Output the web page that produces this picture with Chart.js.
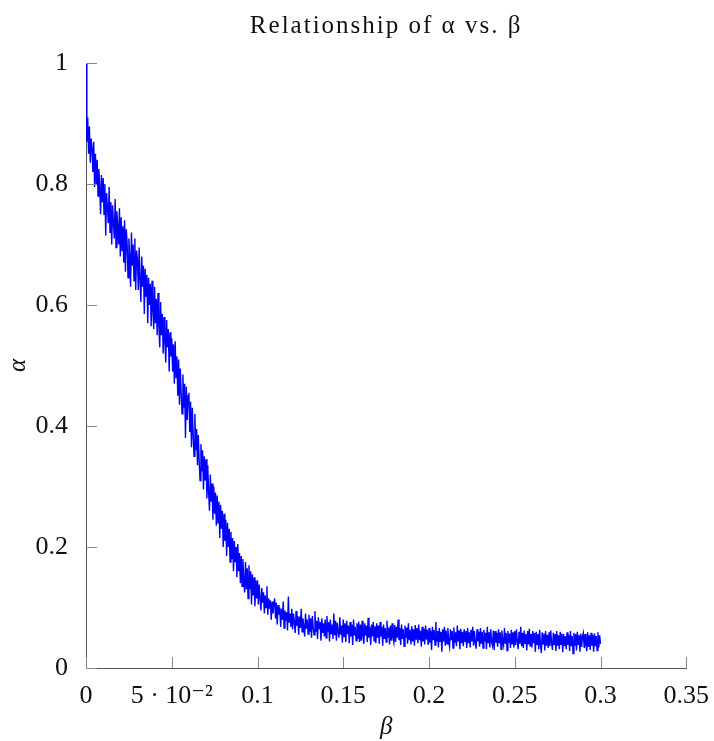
<!DOCTYPE html>
<html>
<head>
<meta charset="utf-8">
<script src="https://cdn.jsdelivr.net/npm/chart.js@4.4.0/dist/chart.umd.min.js"></script>
<style>
  html, body { margin: 0; padding: 0; background: #fff; }
</style>
</head>
<body>
<canvas id="chart" width="714" height="741"></canvas>
<script>
const BETA_STEP = 0.0005;
const alphaValues = [
  1.0, 0.87, 0.91, 0.85, 0.895, 0.835, 0.875, 0.86, 0.82, 0.87, 0.795, 0.85, 0.80, 0.84, 0.78, 0.825, 0.795, 0.75, 0.815, 0.77,
  0.81, 0.75, 0.80, 0.715, 0.785, 0.76, 0.735, 0.795, 0.72, 0.77, 0.70, 0.765, 0.735, 0.71, 0.775, 0.695, 0.755, 0.73, 0.70, 0.76,
  0.68, 0.745, 0.69, 0.73, 0.67, 0.74, 0.655, 0.725, 0.70, 0.645, 0.71, 0.68, 0.63, 0.72, 0.665, 0.70, 0.64, 0.71, 0.625, 0.69,
  0.675, 0.625, 0.695, 0.64, 0.605, 0.68, 0.63, 0.665, 0.585, 0.66, 0.615, 0.65, 0.57, 0.645, 0.60, 0.635, 0.565, 0.64, 0.59, 0.56,
  0.63, 0.57, 0.61, 0.55, 0.62, 0.565, 0.53, 0.605, 0.55, 0.585, 0.52, 0.58, 0.54, 0.505, 0.575, 0.53, 0.56, 0.49, 0.555, 0.515,
  0.545, 0.49, 0.535, 0.47, 0.54, 0.48, 0.515, 0.45, 0.51, 0.435, 0.495, 0.455, 0.42, 0.485, 0.43, 0.47, 0.38, 0.465, 0.41, 0.45,
  0.455, 0.39, 0.44, 0.365, 0.43, 0.385, 0.35, 0.42, 0.36, 0.395, 0.335, 0.385, 0.34, 0.31, 0.37, 0.325, 0.36, 0.295, 0.35, 0.31,
  0.345, 0.28, 0.335, 0.29, 0.26, 0.32, 0.275, 0.305, 0.245, 0.30, 0.255, 0.29, 0.235, 0.285, 0.24, 0.275, 0.215, 0.27, 0.23, 0.26,
  0.2, 0.255, 0.21, 0.245, 0.185, 0.24, 0.2, 0.23, 0.175, 0.225, 0.18, 0.215, 0.16, 0.21, 0.175, 0.2, 0.15, 0.205, 0.16, 0.19,
  0.14, 0.185, 0.135, 0.18, 0.145, 0.125, 0.175, 0.13, 0.165, 0.115, 0.17, 0.13, 0.16, 0.105, 0.155, 0.12, 0.15, 0.102, 0.145, 0.115,
  0.145, 0.105, 0.138, 0.115, 0.095, 0.132, 0.108, 0.125, 0.09, 0.12, 0.1, 0.135, 0.088, 0.115, 0.098, 0.112, 0.08, 0.11, 0.09, 0.104,
  0.115, 0.082, 0.108, 0.072, 0.104, 0.088, 0.1, 0.068, 0.098, 0.08, 0.11, 0.066, 0.095, 0.078, 0.092, 0.062, 0.118, 0.075, 0.09, 0.068,
  0.098, 0.064, 0.09, 0.075, 0.058, 0.094, 0.07, 0.086, 0.055, 0.085, 0.066, 0.098, 0.06, 0.082, 0.068, 0.052, 0.09, 0.065, 0.08, 0.056,
  0.088, 0.06, 0.082, 0.05, 0.086, 0.066, 0.055, 0.094, 0.06, 0.078, 0.048, 0.084, 0.064, 0.076, 0.045, 0.082, 0.058, 0.074, 0.052, 0.08,
  0.05, 0.086, 0.06, 0.076, 0.044, 0.08, 0.056, 0.072, 0.048, 0.09, 0.054, 0.078, 0.045, 0.075, 0.06, 0.05, 0.084, 0.055, 0.07, 0.042,
  0.08, 0.052, 0.074, 0.043, 0.078, 0.056, 0.07, 0.041, 0.076, 0.052, 0.072, 0.038, 0.08, 0.054, 0.068, 0.045, 0.074, 0.048, 0.077, 0.043,
  0.072, 0.045, 0.078, 0.052, 0.04, 0.074, 0.054, 0.07, 0.043, 0.083, 0.05, 0.068, 0.038, 0.072, 0.052, 0.076, 0.045, 0.069, 0.041, 0.074,
  0.05, 0.07, 0.04, 0.076, 0.052, 0.068, 0.037, 0.072, 0.048, 0.066, 0.043, 0.078, 0.05, 0.067, 0.039, 0.07, 0.045, 0.074, 0.049, 0.042,
  0.071, 0.043, 0.068, 0.05, 0.08, 0.046, 0.066, 0.038, 0.072, 0.048, 0.064, 0.036, 0.07, 0.05, 0.067, 0.04, 0.074, 0.046, 0.063, 0.039,
  0.069, 0.044, 0.064, 0.037, 0.071, 0.048, 0.066, 0.041, 0.072, 0.046, 0.062, 0.035, 0.068, 0.044, 0.065, 0.039, 0.07, 0.047, 0.063, 0.038,
  0.066, 0.042, 0.062, 0.03, 0.068, 0.046, 0.063, 0.038, 0.076, 0.044, 0.061, 0.034, 0.066, 0.043, 0.06, 0.027, 0.064, 0.044, 0.068, 0.037,
  0.062, 0.04, 0.066, 0.044, 0.035, 0.064, 0.046, 0.061, 0.033, 0.067, 0.042, 0.059, 0.036, 0.07, 0.044, 0.062, 0.031, 0.065, 0.041, 0.06,
  0.036, 0.064, 0.044, 0.061, 0.033, 0.066, 0.041, 0.059, 0.034, 0.063, 0.044, 0.068, 0.037, 0.061, 0.042, 0.032, 0.064, 0.044, 0.06, 0.035,
  0.066, 0.04, 0.06, 0.033, 0.063, 0.044, 0.058, 0.031, 0.068, 0.041, 0.059, 0.034, 0.064, 0.043, 0.037, 0.062, 0.03, 0.061, 0.042, 0.058,
  0.035, 0.064, 0.041, 0.059, 0.031, 0.062, 0.044, 0.037, 0.066, 0.04, 0.058, 0.029, 0.061, 0.042, 0.057, 0.033, 0.063, 0.039, 0.059, 0.034,
  0.061, 0.038, 0.064, 0.043, 0.031, 0.06, 0.04, 0.068, 0.036, 0.058, 0.033, 0.062, 0.041, 0.056, 0.029, 0.061, 0.039, 0.065, 0.035, 0.056,
  0.034, 0.061, 0.041, 0.058, 0.027, 0.06, 0.039, 0.056, 0.031, 0.063, 0.038, 0.025, 0.059, 0.04, 0.057, 0.029, 0.061, 0.037, 0.055, 0.033,
  0.059, 0.036, 0.062, 0.04, 0.03, 0.058, 0.038, 0.056, 0.028, 0.061, 0.037, 0.054, 0.031, 0.06, 0.039, 0.057, 0.026, 0.056, 0.036, 0.053,
  0.031, 0.059, 0.038, 0.055, 0.028, 0.061, 0.036, 0.053, 0.024, 0.058, 0.037, 0.056, 0.029, 0.06, 0.038, 0.054, 0.027, 0.057, 0.035, 0.052,
  0.058, 0.033, 0.056, 0.038, 0.028, 0.059, 0.035, 0.054, 0.03, 0.058, 0.037, 0.055, 0.027, 0.057, 0.036, 0.053, 0.029, 0.059, 0.034, 0.054,
  0.04
];

const xTickLabels = ["0", "5 \u00b7 10\u207b\u00b2", "0.1", "0.15", "0.2", "0.25", "0.3", "0.35"];
const yTickLabels = ["0", "0.2", "0.4", "0.6", "0.8", "1"];
const chartTitle = "Relationship of \u03b1 vs. \u03b2";
const xTitle = "\u03b2";
const yTitle = "\u03b1";

const points = alphaValues.map((a, i) => ({ x: +(i * BETA_STEP).toFixed(4), y: a }));

const FONT = "'Liberation Serif', 'DejaVu Serif', serif";

// pgfplots-style ticks pointing into the plot
const innerTicks = {
  id: "innerTicks",
  afterDraw(chart) {
    const { ctx, chartArea, scales } = chart;
    ctx.save();
    ctx.strokeStyle = "#8a8a8a";
    ctx.lineWidth = 1;
    scales.x.ticks.forEach(t => {
      const px = Math.round(scales.x.getPixelForValue(t.value)) + 0.5;
      ctx.beginPath();
      ctx.moveTo(px, chartArea.bottom);
      ctx.lineTo(px, chartArea.bottom - 11);
      ctx.stroke();
    });
    scales.y.ticks.forEach(t => {
      const py = Math.round(scales.y.getPixelForValue(t.value)) + 0.5;
      ctx.beginPath();
      ctx.moveTo(chartArea.left, py);
      ctx.lineTo(chartArea.left + 11, py);
      ctx.stroke();
    });
    ctx.restore();
  }
};

// the TeX title is set wider than Liberation Serif, so space the title letters a bit
const spacedTitle = {
  id: "spacedTitle",
  afterInit(chart) {
    const tb = chart.titleBlock;
    if (!tb) return;
    const orig = tb.draw.bind(tb);
    tb.draw = (area) => {
      chart.ctx.letterSpacing = "2px";
      orig(area);
      chart.ctx.letterSpacing = "0px";
    };
  }
};

new Chart(document.getElementById("chart").getContext("2d"), {
  type: "line",
  data: {
    datasets: [{
      data: points,
      borderColor: "#0000ff",
      borderWidth: 1.4,
      pointRadius: 0,
      tension: 0,
      fill: false
    }]
  },
  options: {
    responsive: false,
    animation: false,
    layout: { padding: { top: 0, right: 25, bottom: 0, left: 0 } },
    plugins: {
      legend: { display: false },
      tooltip: { enabled: false },
      title: {
        display: true,
        text: chartTitle,
        fullSize: false,
        color: "#111",
        font: { family: FONT, size: 25, weight: "normal" },
        padding: { top: 11, bottom: 22 }
      }
    },
    scales: {
      x: {
        type: "linear",
        min: 0,
        max: 0.35,
        afterFit: s => { s.height = 73; },
        border: { display: true, color: "#555", width: 1 },
        grid: { display: false },
        ticks: {
          stepSize: 0.05,
          autoSkip: false,
          maxRotation: 0,
          padding: 5,
          color: "#111",
          font: { family: FONT, size: 26 },
          callback: (v, i) => xTickLabels[i]
        },
        title: {
          display: true,
          text: xTitle,
          color: "#111",
          font: { family: FONT, size: 25, style: "italic", lineHeight: 1 },
          padding: { top: 0, bottom: 1 }
        }
      },
      y: {
        min: 0,
        max: 1,
        afterFit: s => { s.width = 86; },
        border: { display: true, color: "#555", width: 1 },
        grid: { display: false },
        ticks: {
          stepSize: 0.2,
          padding: 10,
          color: "#111",
          font: { family: FONT, size: 26 },
          callback: (v, i) => yTickLabels[i]
        },
        title: {
          display: true,
          text: yTitle,
          color: "#111",
          font: { family: FONT, size: 25, style: "italic", lineHeight: 1 },
          padding: { top: 6, bottom: 0 }
        }
      }
    }
  },
  plugins: [innerTicks, spacedTitle]
});
</script>
</body>
</html>
